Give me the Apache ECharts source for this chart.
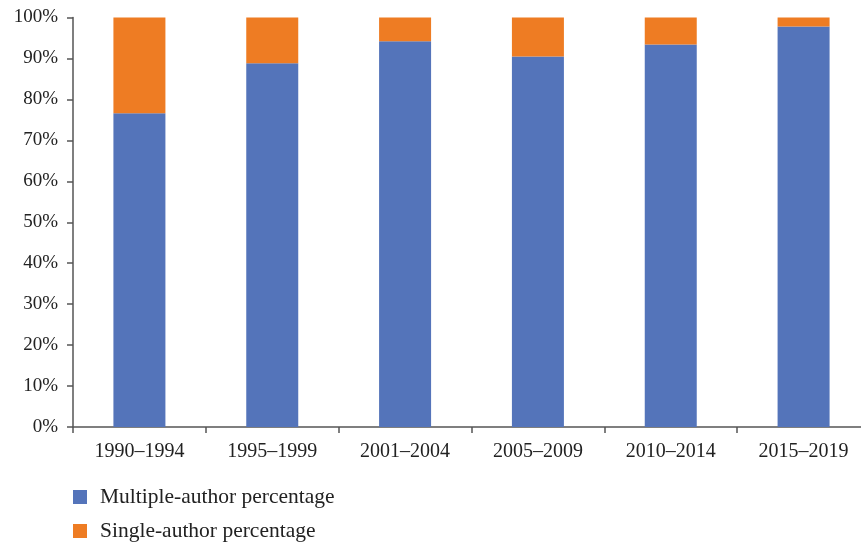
<!DOCTYPE html>
<html>
<head>
<meta charset="utf-8">
<script src="https://cdn.jsdelivr.net/npm/echarts@6/dist/echarts.min.js"></script>
<style>
  html, body { margin: 0; padding: 0; background: #fff; }
  #chart { width: 861px; height: 542px; }
</style>
</head>
<body>
<div id="chart"></div>
<script>
// Share of papers by authorship type, per five-year period
const periods = ['1990–1994', '1995–1999', '2001–2004', '2005–2009', '2010–2014', '2015–2019'];
const multipleAuthor = [76.6, 88.8, 94.2, 90.5, 93.4, 97.8];
const singleAuthor = [23.4, 11.2, 5.8, 9.5, 6.6, 2.2];
const yTicks = [0, 10, 20, 30, 40, 50, 60, 70, 80, 90, 100];
const seriesNames = ['Multiple-author percentage', 'Single-author percentage'];

const FONT = '"Liberation Serif", "DejaVu Serif", serif';
const AXIS_COLOR = '#555555';
const TEXT_COLOR = '#222222';

// one legend block per series, stacked vertically under the axis
function legendBlock(name, top) {
  return {
    orient: 'vertical',
    left: 68,
    top: top,
    itemWidth: 14,
    itemHeight: 14,
    icon: 'rect',
    textStyle: { fontFamily: FONT, fontSize: 21.5, color: TEXT_COLOR, padding: [0, 0, 0, 8] },
    data: [name]
  };
}

const chart = echarts.init(document.getElementById('chart'));
chart.setOption({
  animation: false,
  backgroundColor: '#ffffff',
  textStyle: { fontFamily: FONT },
  // the category axis runs a little past the right edge of the canvas
  grid: { left: 73, top: 17.5, width: 797, height: 409.5, containLabel: false, outerBoundsMode: 'none' },
  legend: [legendBlock(seriesNames[0], 481), legendBlock(seriesNames[1], 515)],
  xAxis: {
    type: 'category',
    data: periods,
    boundaryGap: true,
    axisLine: { lineStyle: { color: AXIS_COLOR, width: 1.5 } },
    axisTick: { show: true, length: 6, alignWithLabel: false, lineStyle: { color: AXIS_COLOR, width: 1.5 } },
    axisLabel: { color: TEXT_COLOR, fontFamily: FONT, fontSize: 20, margin: 15 },
    splitLine: { show: false }
  },
  yAxis: {
    type: 'value',
    min: yTicks[0],
    max: yTicks[yTicks.length - 1],
    interval: 10,
    axisLine: { show: true, lineStyle: { color: AXIS_COLOR, width: 1.5 } },
    axisTick: { show: true, length: 6, lineStyle: { color: AXIS_COLOR, width: 1.5 } },
    axisLabel: { color: TEXT_COLOR, fontFamily: FONT, fontSize: 19, margin: 15, formatter: '{value}%' },
    splitLine: { show: false }
  },
  series: [
    {
      name: seriesNames[0],
      type: 'bar',
      stack: 'share',
      barWidth: 52,
      itemStyle: { color: '#5474BA' },
      data: multipleAuthor
    },
    {
      name: seriesNames[1],
      type: 'bar',
      stack: 'share',
      barWidth: 52,
      itemStyle: { color: '#EE7C23' },
      data: singleAuthor
    }
  ]
});
</script>
</body>
</html>
